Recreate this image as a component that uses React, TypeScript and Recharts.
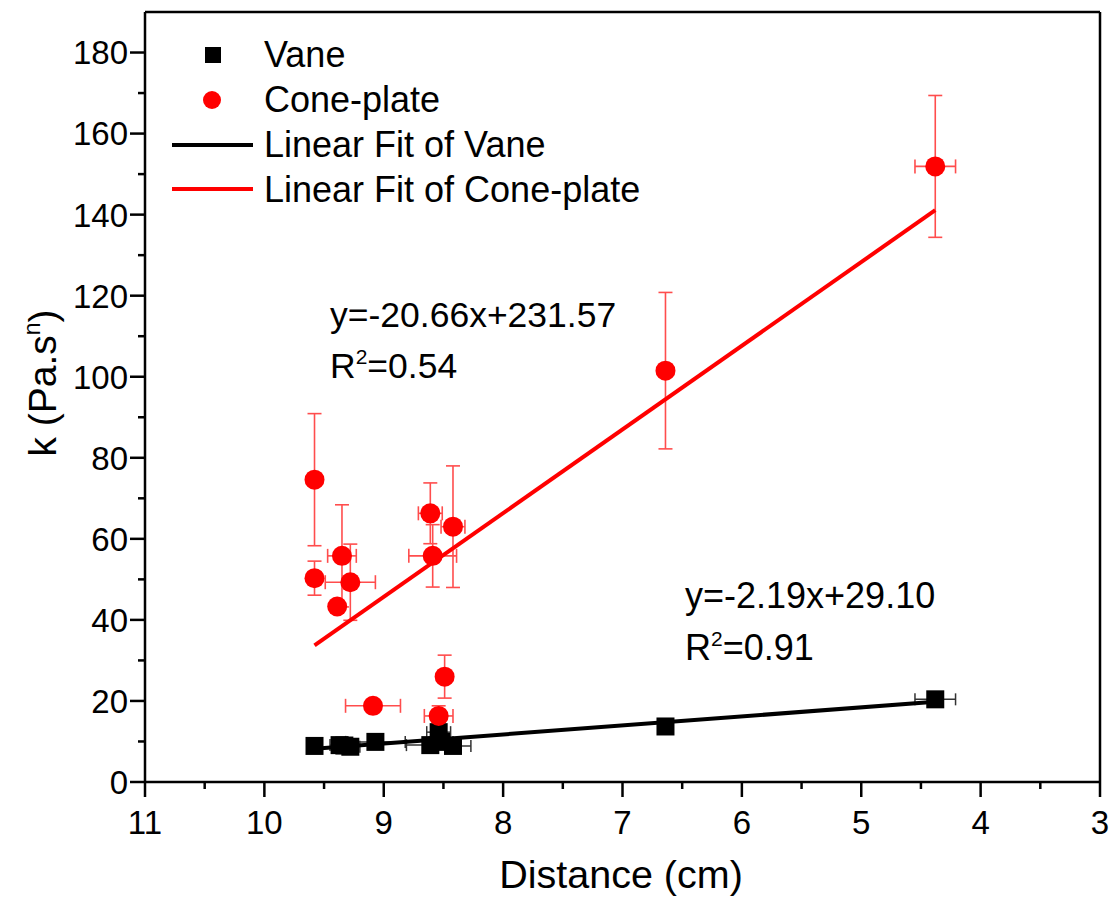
import { ScatterChart, Scatter, XAxis, YAxis, ErrorBar, ReferenceLine } from "recharts";

// Vane (black squares)
const vaneX = [9.58, 9.37, 9.33, 9.28, 9.07, 8.61, 8.54, 8.52, 8.42, 6.64, 4.38];
const vaneY = [8.9, 9.1, 9.0, 8.7, 9.9, 9.1, 12.3, 9.9, 8.9, 13.7, 20.4];
const vaneXErr = [0.05, 0.08, 0.1, 0.08, 0.25, 0.2, 0.1, 0.1, 0.15, 0.05, 0.17];
const vaneYErr = [0.5, 0.8, 0.5, 0.5, 0.8, 0.8, 1.5, 1.0, 0.6, 0.6, 0.6];

// Cone-plate (red circles)
const coneX = [9.58, 9.58, 9.35, 9.39, 9.28, 9.09, 8.61, 8.59, 8.54, 8.49, 8.42, 6.64, 4.38];
const coneY = [74.6, 50.3, 55.8, 43.3, 49.3, 18.8, 66.3, 55.8, 16.3, 26.0, 63.0, 101.5, 151.9];
const coneXErr = [0, 0, 0.12, 0, 0.21, 0.23, 0.1, 0.2, 0.12, 0, 0.1, 0, 0.17];
const coneYErr = [16.3, 4.2, 12.6, 0, 9.4, 0, 7.5, 7.7, 2.5, 5.3, 15.0, 19.3, 17.5];

// linear fits (end points)
const vaneFitX = [9.58, 4.38];
const vaneFitY = [8.2, 19.8];
const coneFitX = [9.58, 4.38];
const coneFitY = [33.7, 141.1];

const xMajorTicks = [3, 4, 5, 6, 7, 8, 9, 10, 11];
const xMinorTicks = [3.5, 4.5, 5.5, 6.5, 7.5, 8.5, 9.5, 10.5];
const yMajorTicks = [0, 20, 40, 60, 80, 100, 120, 140, 160, 180];
const yMinorTicks = [10, 30, 50, 70, 90, 110, 130, 150, 170];

const FONT = "'Liberation Sans', Arial, sans-serif";
const RED = "#ff0000";

const vaneData = vaneX.map((x, i) => ({ x, y: vaneY[i], ex: vaneXErr[i], ey: vaneYErr[i] }));
const coneData = coneX.map((x, i) => ({ x, y: coneY[i], ex: coneXErr[i], ey: coneYErr[i] }));
const vaneFit = vaneFitX.map((x, i) => ({ x, y: vaneFitY[i] }));
const coneFit = coneFitX.map((x, i) => ({ x, y: coneFitY[i] }));

const xTicks = [...xMajorTicks, ...xMinorTicks].sort((a, b) => a - b);
const yTicks = [...yMajorTicks, ...yMinorTicks].sort((a, b) => a - b);

function XTick({ x, y, payload }: any) {
  const major = xMajorTicks.includes(payload.value);
  return (
    <g>
      <line x1={x} x2={x} y1={y} y2={y + (major ? 15 : 7)} stroke="#000" strokeWidth={2.5} />
      {major && (
        <text x={x} y={y + 52} textAnchor="middle" fontSize={33} fontFamily={FONT} fill="#000">
          {payload.value}
        </text>
      )}
    </g>
  );
}

function YTick({ x, y, payload }: any) {
  const major = yMajorTicks.includes(payload.value);
  return (
    <g>
      <line x1={x} x2={x - (major ? 15 : 7)} y1={y} y2={y} stroke="#000" strokeWidth={2.5} />
      {major && (
        <text x={x - 17} y={y} dy="0.36em" textAnchor="end" fontSize={33} fontFamily={FONT} fill="#000">
          {payload.value}
        </text>
      )}
    </g>
  );
}

const squareShape = (p: any) => (
  <rect x={p.cx - 9} y={p.cy - 9} width={18} height={18} fill="#000" />
);
const circleShape = (p: any) => <circle cx={p.cx} cy={p.cy} r={10} fill={RED} />;
const noShape = () => <g />;

export default function App() {
  return (
    <div style={{ position: "absolute", left: 0, top: 0, width: 1112, height: 902, background: "#fff" }}>
      <ScatterChart width={1112} height={902} margin={{ top: 12, right: 12, bottom: 0, left: 0 }}>
        <XAxis
          type="number"
          dataKey="x"
          domain={[3, 11]}
          reversed
          ticks={xTicks}
          interval={0}
          tick={<XTick />}
          tickLine={false}
          tickSize={0}
          tickMargin={0}
          height={120}
          axisLine={{ stroke: "#000", strokeWidth: 2.5 }}
          allowDataOverflow
        />
        <YAxis
          type="number"
          dataKey="y"
          domain={[0, 190]}
          ticks={yTicks}
          interval={0}
          tick={<YTick />}
          tickLine={false}
          tickSize={0}
          tickMargin={0}
          width={145}
          axisLine={{ stroke: "#000", strokeWidth: 2.5 }}
          allowDataOverflow
        />
        <ReferenceLine y={190} stroke="#000" strokeWidth={2.5} />
        <ReferenceLine x={3} stroke="#000" strokeWidth={2.5} />
        <Scatter
          data={coneFit}
          line={{ stroke: RED, strokeWidth: 4 }}
          shape={noShape}
          isAnimationActive={false}
        />
        <Scatter
          data={vaneFit}
          line={{ stroke: "#000", strokeWidth: 4 }}
          shape={noShape}
          isAnimationActive={false}
        />
        <Scatter data={vaneData} shape={squareShape} isAnimationActive={false}>
          <ErrorBar dataKey="ey" direction="y" width={6} stroke="#333" strokeWidth={1.5} />
          <ErrorBar dataKey="ex" direction="x" width={6} stroke="#333" strokeWidth={1.5} />
        </Scatter>
        <Scatter data={coneData} shape={circleShape} isAnimationActive={false}>
          <ErrorBar dataKey="ey" direction="y" width={7} stroke="#ff4d4d" strokeWidth={1.6} />
          <ErrorBar dataKey="ex" direction="x" width={7} stroke="#ff4d4d" strokeWidth={1.6} />
        </Scatter>
      </ScatterChart>

      <svg
        width={1112}
        height={902}
        style={{ position: "absolute", left: 0, top: 0, pointerEvents: "none" }}
        fontFamily={FONT}
      >
        {/* legend */}
        <rect x={205} y={47} width={16} height={16} fill="#000" />
        <circle cx={212} cy={100} r={9} fill={RED} />
        <line x1={172} x2={253} y1={145} y2={145} stroke="#000" strokeWidth={4} />
        <line x1={172} x2={253} y1={189} y2={189} stroke={RED} strokeWidth={4} />
        <text x={264} y={67} fontSize={36}>Vane</text>
        <text x={264} y={112} fontSize={36}>Cone-plate</text>
        <text x={264} y={157} fontSize={36}>Linear Fit of Vane</text>
        <text x={264} y={202} fontSize={36}>Linear Fit of Cone-plate</text>

        {/* fit annotations */}
        <text x={330} y={327} fontSize={35.5}>y=-20.66x+231.57</text>
        <text x={330} y={378} fontSize={35.5}>
          R<tspan dy={-14} fontSize={21}>2</tspan>
          <tspan dy={14}>=0.54</tspan>
        </text>
        <text x={685} y={608} fontSize={36}>y=-2.19x+29.10</text>
        <text x={685} y={660} fontSize={36}>
          R<tspan dy={-14} fontSize={21}>2</tspan>
          <tspan dy={14}>=0.91</tspan>
        </text>

        {/* axis titles */}
        <text x={621} y={888} fontSize={39.5} textAnchor="middle">Distance (cm)</text>
        <text x={56} y={383} fontSize={39} textAnchor="middle" transform="rotate(-90 56 383)">
          k (Pa.s<tspan dy={-16} fontSize={23}>n</tspan>
          <tspan dy={16}>)</tspan>
        </text>
      </svg>
    </div>
  );
}
